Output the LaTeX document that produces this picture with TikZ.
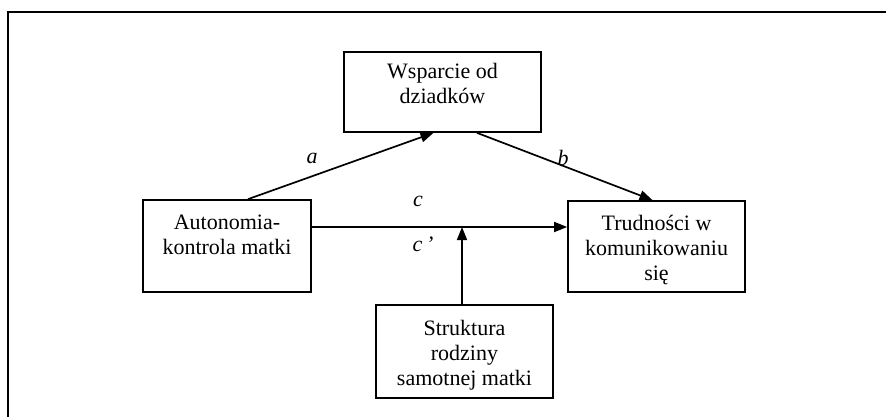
\documentclass[tikz,border=0pt]{standalone}
\usepackage{fontspec}
\setmainfont{Liberation Serif}
\usetikzlibrary{arrows.meta}
\newcommand{\bxt}[4]{\parbox[c][#2][t]{#1}{\centering\fontsize{22pt}{25pt}\selectfont\rule{0pt}{#3}#4}}
\tikzset{
  x=1pt, y=-1pt,
  mbox/.style={draw, line width=1.7pt, inner sep=0pt},
  conn/.style={line width=1.7pt, -{Triangle[length=13pt,width=10pt]}},
  lbl/.style={font=\fontsize{22pt}{25pt}\selectfont\itshape, inner sep=0pt}
}
\begin{document}
\begin{tikzpicture}
\useasboundingbox (0,0) rectangle (886,417);
\fill[white] (0,0) rectangle (886,417);
\draw[line width=2pt] (7.5,417) -- (7.5,12) -- (886,12);

\node[mbox] (W) at (442.5,92) {\bxt{197pt}{80pt}{27pt}{Wsparcie od\\dziadków}};
\node[mbox] (A) at (227,246) {\bxt{168pt}{92pt}{29pt}{Autonomia-\\kontrola matki}};
\node[mbox] (T) at (656.5,246.5) {\bxt{177pt}{91pt}{29pt}{Trudności w\\komunikowaniu\\się}};
\node[mbox] (S) at (464.5,351.5) {\bxt{177pt}{93pt}{30pt}{Struktura\\rodziny\\samotnej matki}};

\coordinate (m) at (462,227);

\draw[conn] ([xshift=21pt]A.north) -- ([xshift=-9pt]W.south);
\draw[conn] ([xshift=34.5pt]W.south) -- ([xshift=-4pt]T.north);
\draw[conn] (A.east |- m) -- (T.west |- m);
\draw[conn] (S.north -| m) -- (m);

\node[lbl] (la) at (312,158) {a};
\node[lbl] (lb) at (563,158) {b};
\node[lbl] (lc) at (418,201) {c};
\node[lbl] (lc2) at (423,244) {c\,’};
\end{tikzpicture}
\end{document}
